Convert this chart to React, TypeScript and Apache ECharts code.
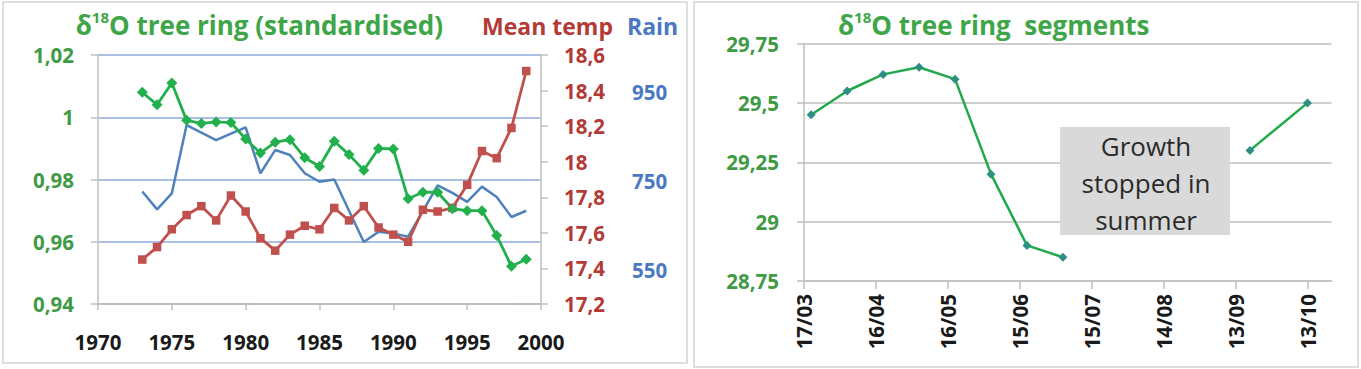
import React, { useEffect, useRef } from 'react';
import * as echarts from 'echarts';

// ---------- Left chart data ----------
const years = [1973, 1974, 1975, 1976, 1977, 1978, 1979, 1980, 1981, 1982, 1983, 1984, 1985, 1986,
  1987, 1988, 1989, 1990, 1991, 1992, 1993, 1994, 1995, 1996, 1997, 1998, 1999];
const isotopeIndex = [1.008, 1.004, 1.011, 0.999, 0.998, 0.9985, 0.9983, 0.993, 0.9885, 0.992, 0.9928, 0.987, 0.9842, 0.9923,
  0.988, 0.983, 0.990, 0.9898, 0.9738, 0.9759, 0.9759, 0.9706, 0.970, 0.970, 0.962, 0.9521, 0.9544];
const meanTemp = [17.45, 17.52, 17.62, 17.70, 17.75, 17.67, 17.81, 17.72, 17.57, 17.50, 17.59, 17.64, 17.62, 17.74,
  17.67, 17.75, 17.63, 17.59, 17.55, 17.73, 17.72, 17.74, 17.87, 18.06, 18.02, 18.19, 18.51];
const rainfall = [726, 686, 722, 875, 858, 841, 856, 870, 767, 819, 808, 767, 748, 753,
  683, 613, 636, 632, 625, 682, 740, 723, 703, 737, 714, 669, 683];
const rainLabels = [550, 750, 950];

// ---------- Right chart data ----------
const springDates = ['20/03', '04/04', '19/04', '04/05', '19/05', '03/06', '18/06', '03/07'];
const springValues = [29.45, 29.55, 29.62, 29.65, 29.6, 29.2, 28.9, 28.85];
const autumnDates = ['19/09', '13/10'];
const autumnValues = [29.3, 29.5];
const dateTicks = ['17/03', '16/04', '16/05', '15/06', '15/07', '14/08', '13/09', '13/10'];

const FONT = "'Open Sans', sans-serif";
const GREEN_TXT = '#3f9a45';
const TITLE_GREEN = '#3ea648';
const RED_TXT = '#b33a36';
const BLUE_TXT = '#4a78c2';
const TITLE_SIZE = 23;
const MAIN_TITLE_SIZE = 26;
const LABEL_SIZE = 20.5;

const toDate = (s: string) => {
  const [d, m] = s.split('/').map(Number);
  return Date.UTC(2013, m - 1, d);
};
const ORIGIN = toDate(dateTicks[0]);
const toDay = (s: string) => Math.round((toDate(s) - ORIGIN) / 86400000);
const fromDay = (v: number) => {
  const dt = new Date(ORIGIN + v * 86400000);
  const dd = String(dt.getUTCDate()).padStart(2, '0');
  const mm = String(dt.getUTCMonth() + 1).padStart(2, '0');
  return `${dd}/${mm}`;
};
const comma = (v: number, d: number) => String(+v.toFixed(d)).replace('.', ',');

const titleRich = {
  g: { fontFamily: FONT, fontWeight: 'bold', fontSize: MAIN_TITLE_SIZE, color: TITLE_GREEN, lineHeight: 32 },
  s: { fontFamily: FONT, fontWeight: 'bold', fontSize: 15, color: TITLE_GREEN, lineHeight: 20, verticalAlign: 'top' },
};

export default function App() {
  const ref = useRef<HTMLDivElement>(null);
  useEffect(() => {
    if (!ref.current) return;
    const chart = echarts.init(ref.current, undefined, { renderer: 'svg' });
    const axisLabelBase = { fontFamily: FONT, fontWeight: 'bold' as const, fontSize: LABEL_SIZE };
    const dayTicks = dateTicks.map(toDay);

    chart.setOption({
      animation: false,
      backgroundColor: '#ffffff',
      title: [
        {
          text: '{g|δ}{s|18}{g|O tree ring (standardised)}',
          right: 1361 - 448, top: 4,
          textStyle: { rich: titleRich },
        },
        {
          text: 'Mean temp', left: 477, top: 6,
          textStyle: { fontFamily: FONT, fontWeight: 'bold', fontSize: TITLE_SIZE, color: RED_TXT, lineHeight: 30 },
        },
        {
          text: 'Rain', left: 622, top: 6,
          textStyle: { fontFamily: FONT, fontWeight: 'bold', fontSize: TITLE_SIZE, color: BLUE_TXT, lineHeight: 30 },
        },
        {
          text: '{g|δ}{s|18}{g|O tree ring  segments}',
          left: 833, top: 4,
          textStyle: { rich: titleRich },
        },
      ],
      grid: [
        { left: 98, top: 55, width: 443, height: 249 },
        { left: 804, top: 43.5, width: 527.5, height: 237.5 },
      ],
      xAxis: [
        {
          type: 'value', gridIndex: 0, min: 1970, max: 2000, interval: 5,
          axisLine: { show: true, lineStyle: { color: '#bfbfbf', width: 1.5 } },
          axisTick: { show: true, length: 6, lineStyle: { color: '#bfbfbf', width: 1.5 } },
          splitLine: { show: false },
          axisLabel: { ...axisLabelBase, color: '#1a1a1a', margin: 27, formatter: (v: number) => String(v) },
        },
        {
          type: 'value', gridIndex: 1, min: 0, max: 220,
          axisLine: { show: true, lineStyle: { color: '#bfbfbf', width: 1.5 } },
          axisTick: { show: true, length: 8, customValues: dayTicks, lineStyle: { color: '#bfbfbf', width: 1.5 } },
          splitLine: { show: false },
          axisLabel: {
            ...axisLabelBase, color: '#1a1a1a', rotate: 90, margin: 13,
            customValues: dayTicks, formatter: (v: number) => fromDay(v),
          },
        },
      ],
      yAxis: [
        {
          type: 'value', gridIndex: 0, min: 0.94, max: 1.02, interval: 0.02,
          axisLine: { show: true, lineStyle: { color: '#bfbfbf', width: 1.5 } },
          axisTick: { show: true, length: 7, lineStyle: { color: '#bfbfbf', width: 1.5 } },
          splitLine: { show: true, lineStyle: { color: '#8eaadb', width: 1.5 } },
          axisLabel: { ...axisLabelBase, color: GREEN_TXT, margin: 24, formatter: (v: number) => comma(v, 2) },
        },
        {
          type: 'value', gridIndex: 0, position: 'right', min: 17.2, max: 18.6, interval: 0.2,
          axisLine: { show: true, lineStyle: { color: '#bfbfbf', width: 1.5 } },
          axisTick: { show: true, length: 7, lineStyle: { color: '#bfbfbf', width: 1.5 } },
          splitLine: { show: false },
          axisLabel: { ...axisLabelBase, color: RED_TXT, margin: 23, formatter: (v: number) => comma(v, 1) },
        },
        {
          type: 'value', gridIndex: 0, position: 'right', offset: 83, min: 474, max: 1032,
          axisLine: { show: false },
          axisTick: { show: false },
          splitLine: { show: false },
          axisLabel: { ...axisLabelBase, color: BLUE_TXT, margin: 8, customValues: rainLabels, formatter: (v: number) => String(v) },
        },
        {
          type: 'value', gridIndex: 1, min: 28.75, max: 29.75, interval: 0.25,
          axisLine: { show: true, lineStyle: { color: '#bfbfbf', width: 1.5 } },
          axisTick: { show: true, length: 7, lineStyle: { color: '#bfbfbf', width: 1.5 } },
          splitLine: { show: true, lineStyle: { color: '#bfbfbf', width: 1.5 } },
          axisLabel: { ...axisLabelBase, color: GREEN_TXT, margin: 25, formatter: (v: number) => comma(v, 2) },
        },
      ],
      series: [
        {
          name: 'Rain', type: 'line', xAxisIndex: 0, yAxisIndex: 2,
          data: years.map((y, i) => [y, rainfall[i]]),
          symbol: 'none', lineStyle: { color: '#4f81bd', width: 2.5 },
        },
        {
          name: 'Mean temp', type: 'line', xAxisIndex: 0, yAxisIndex: 1,
          data: years.map((y, i) => [y, meanTemp[i]]),
          symbol: 'rect', symbolSize: 8.5, showAllSymbol: true,
          lineStyle: { color: '#c0504d', width: 2.8 }, itemStyle: { color: '#c0504d' },
        },
        {
          name: 'δ18O', type: 'line', xAxisIndex: 0, yAxisIndex: 0,
          data: years.map((y, i) => [y, isotopeIndex[i]]),
          symbol: 'diamond', symbolSize: 11, showAllSymbol: true,
          lineStyle: { color: '#22b04c', width: 2.8 }, itemStyle: { color: '#22b04c' },
        },
        {
          name: 'Spring', type: 'line', xAxisIndex: 1, yAxisIndex: 3,
          data: springDates.map((d, i) => [toDay(d), springValues[i]]),
          symbol: 'diamond', symbolSize: 9, showAllSymbol: true,
          lineStyle: { color: '#22a94b', width: 2.5 }, itemStyle: { color: '#2d8f86' },
        },
        {
          name: 'Autumn', type: 'line', xAxisIndex: 1, yAxisIndex: 3,
          data: autumnDates.map((d, i) => [toDay(d), autumnValues[i]]),
          symbol: 'diamond', symbolSize: 9, showAllSymbol: true,
          lineStyle: { color: '#22a94b', width: 2.5 }, itemStyle: { color: '#2d8f86' },
        },
      ],
      graphic: [
        {
          type: 'rect', z: -10, silent: true,
          shape: { x: 3, y: 2, width: 684, height: 361 },
          style: { fill: 'none', stroke: '#d4d4d4', lineWidth: 1.5 },
        },
        {
          type: 'rect', z: -10, silent: true,
          shape: { x: 694, y: 2, width: 664, height: 365 },
          style: { fill: 'none', stroke: '#d4d4d4', lineWidth: 1.5 },
        },
        {
          type: 'rect', z: 50, silent: true,
          shape: { x: 1060, y: 127, width: 170, height: 108 },
          style: { fill: '#d9d9d9' },
        },
        {
          type: 'text', z: 51, silent: true,
          x: 1146, y: 183,
          style: {
            text: 'Growth\nstopped in\nsummer',
            fontFamily: FONT, fontSize: 26, lineHeight: 37, fill: '#2b2b2b',
            align: 'center', verticalAlign: 'middle',
          },
        },
      ],
    });
    return () => chart.dispose();
  }, []);
  return <div ref={ref} style={{ position: 'absolute', left: 0, top: 0, width: 1361, height: 369 }} />;
}
